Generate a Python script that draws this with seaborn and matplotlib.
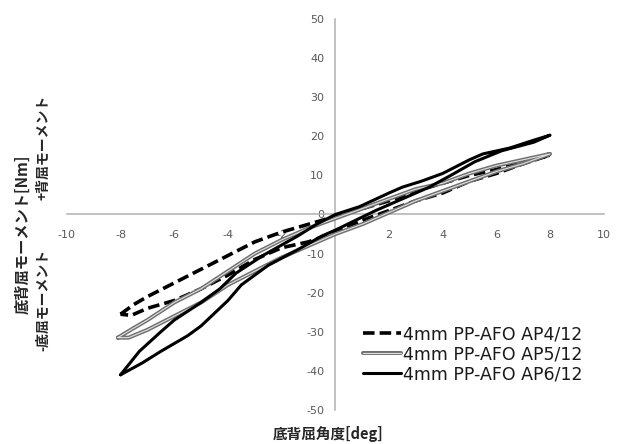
import numpy as np
import pandas as pd
import matplotlib
matplotlib.use("Agg")
import matplotlib.pyplot as plt
import matplotlib.patheffects as pe
import seaborn as sns

# ---------------- data ----------------
series_names = ["4mm PP-AFO AP4/12", "4mm PP-AFO AP5/12", "4mm PP-AFO AP6/12"]

ap4_angle = [-8.0, -7.5, -7.0, -6.0, -5.0, -4.0, -3.0, -2.0, -1.0, 0.0, 1.0, 2.0, 3.0, 4.0, 5.0, 6.0, 7.0, 8.0,
             7.0, 6.0, 5.0, 4.0, 3.0, 2.0, 1.0, 0.0, -1.0, -2.0, -3.0, -4.0, -5.0, -6.0, -7.0, -7.6, -8.0]
ap4_moment = [-25.5, -23.0, -21.0, -17.5, -14.0, -10.5, -7.0, -4.5, -2.5, -0.5, 1.5, 3.5, 6.0, 8.0, 10.0, 11.5, 13.5, 15.2,
              13.0, 10.5, 8.5, 5.5, 3.5, 1.0, -1.5, -4.5, -7.0, -8.5, -11.5, -15.5, -19.0, -22.0, -24.0, -25.8, -25.5]

ap5_angle = [-8.1, -7.5, -7.0, -6.0, -5.0, -4.0, -3.0, -2.0, -1.0, 0.0, 1.0, 2.0, 3.0, 4.0, 5.0, 6.0, 7.0, 8.0,
             7.0, 6.0, 5.0, 4.0, 3.0, 2.0, 1.0, 0.0, -1.0, -2.0, -3.0, -4.0, -5.0, -6.0, -7.0, -7.7, -8.1]
ap5_moment = [-31.5, -29.0, -27.0, -22.5, -19.0, -14.5, -10.0, -6.5, -3.5, -1.0, 1.5, 4.0, 6.5, 8.0, 10.5, 12.5, 14.0, 15.5,
              13.0, 11.0, 8.5, 6.0, 3.5, 0.5, -2.5, -5.0, -8.0, -11.0, -14.5, -18.0, -22.5, -26.0, -29.5, -31.5, -31.5]

ap6_angle = [-8.0, -7.3, -6.5, -6.0, -5.0, -4.3, -3.7, -2.7, -1.4, -0.7, 0.0, 0.9, 2.0, 2.5, 3.2, 4.0, 5.0, 5.5, 6.5, 7.3, 8.0,
             7.4, 6.2, 5.2, 4.3, 3.5, 2.5, 1.5, 0.9, 0.0, -0.5, -1.4, -2.5, -3.5, -4.0, -5.0, -5.5, -6.5, -7.2, -8.0]
ap6_moment = [-41.0, -35.0, -30.0, -27.0, -22.5, -19.0, -15.0, -10.5, -5.5, -2.5, 0.0, 2.0, 5.5, 7.0, 8.5, 10.5, 14.0, 15.5, 17.0, 18.8, 20.3,
              18.5, 16.3, 13.5, 10.0, 7.0, 4.0, 1.0, -1.0, -4.0, -5.5, -9.0, -13.0, -18.0, -22.0, -28.5, -31.0, -35.0, -38.0, -41.0]

x_ticks = [-10, -8, -6, -4, -2, 0, 2, 4, 6, 8, 10]
x_tick_labels = ["-10", "-8", "-6", "-4", "-2", "", "2", "4", "6", "8", "10"]
y_ticks = [-50, -40, -30, -20, -10, 0, 10, 20, 30, 40, 50]
y_tick_labels = ["-50", "-40", "-30", "-20", "-10", "0", "10", "20", "30", "40", "50"]

x_label = "底背屈角度[deg]"
y_label_main = "底背屈モーメント[Nm]"
y_label_pos = "+背屈モーメント"
y_label_neg = "-底屈モーメント"

# ---------------- plotting ----------------
sns.set_style("white")
plt.rcParams["font.family"] = ["DejaVu Sans", "Noto Sans CJK JP"]
jp_font = ["Noto Sans CJK JP", "DejaVu Sans"]

frames = []
for name, a, m in [(series_names[0], ap4_angle, ap4_moment),
                   (series_names[1], ap5_angle, ap5_moment),
                   (series_names[2], ap6_angle, ap6_moment)]:
    frames.append(pd.DataFrame({"angle": a, "moment": m, "series": name, "order": range(len(a))}))
df = pd.concat(frames, ignore_index=True)

fig = plt.figure(figsize=(6.25, 4.44), dpi=100)
ax = fig.add_axes([0.107, 0.0766, 0.859, 0.8806])

# AP4: thick dashed black
sns.lineplot(data=df[df.series == series_names[0]], x="angle", y="moment", sort=False, estimator=None,
             color="black", lw=2.6, ax=ax, label=series_names[0], zorder=3)
ax.lines[-1].set_dashes([3.2, 1.4])

# AP5: gray double line
sns.lineplot(data=df[df.series == series_names[1]], x="angle", y="moment", sort=False, estimator=None,
             color="#e0e0e0", lw=0.8, ax=ax, label=series_names[1], zorder=3)
ax.lines[-1].set_path_effects([pe.Stroke(linewidth=2.9, foreground="#707070"), pe.Normal()])

# AP6: solid black
sns.lineplot(data=df[df.series == series_names[2]], x="angle", y="moment", sort=False, estimator=None,
             color="black", lw=2.2, ax=ax, label=series_names[2], zorder=3)

ax.set_xlim(-10, 10)
ax.set_ylim(-50, 50)
ax.set_xticks(x_ticks)
ax.set_xticklabels(x_tick_labels)
ax.set_yticks(y_ticks)
ax.set_yticklabels(y_tick_labels)
ax.set_xlabel("")
ax.set_ylabel("")

for s in ["top", "right"]:
    ax.spines[s].set_visible(False)
ax.spines["left"].set_position(("data", 0))
ax.spines["bottom"].set_position(("data", 0))
for s in ["left", "bottom"]:
    ax.spines[s].set_color("#b0b0b0")
    ax.spines[s].set_linewidth(1.1)
    ax.spines[s].set_zorder(1)

ax.tick_params(axis="x", length=0, pad=11, labelsize=8, labelcolor="#595959")
ax.tick_params(axis="y", length=0, pad=8, labelsize=8, labelcolor="#595959")

leg = ax.legend(loc="upper left", bbox_to_anchor=(0.552, 0.217), frameon=False,
                fontsize=12.5, handlelength=2.2, handletextpad=0.1, labelspacing=0.12,
                borderaxespad=0, borderpad=0)
for t in leg.get_texts():
    t.set_color("#1a1a1a")

fig.text(0.525, 0.005, x_label, ha="center", va="bottom", fontsize=10.5, fontweight="bold",
         family=jp_font, color="#262626")
fig.text(0.036, 0.473, y_label_main, ha="center", va="center", rotation=90, fontsize=11,
         fontweight="bold", family=jp_font, color="#262626")
fig.text(0.069, 0.669, y_label_pos, ha="center", va="center", rotation=90, fontsize=10,
         fontweight="bold", family=jp_font, color="#262626")
fig.text(0.069, 0.324, y_label_neg, ha="center", va="center", rotation=90, fontsize=10,
         fontweight="bold", family=jp_font, color="#262626")

fig.savefig("out.png", dpi=100)
